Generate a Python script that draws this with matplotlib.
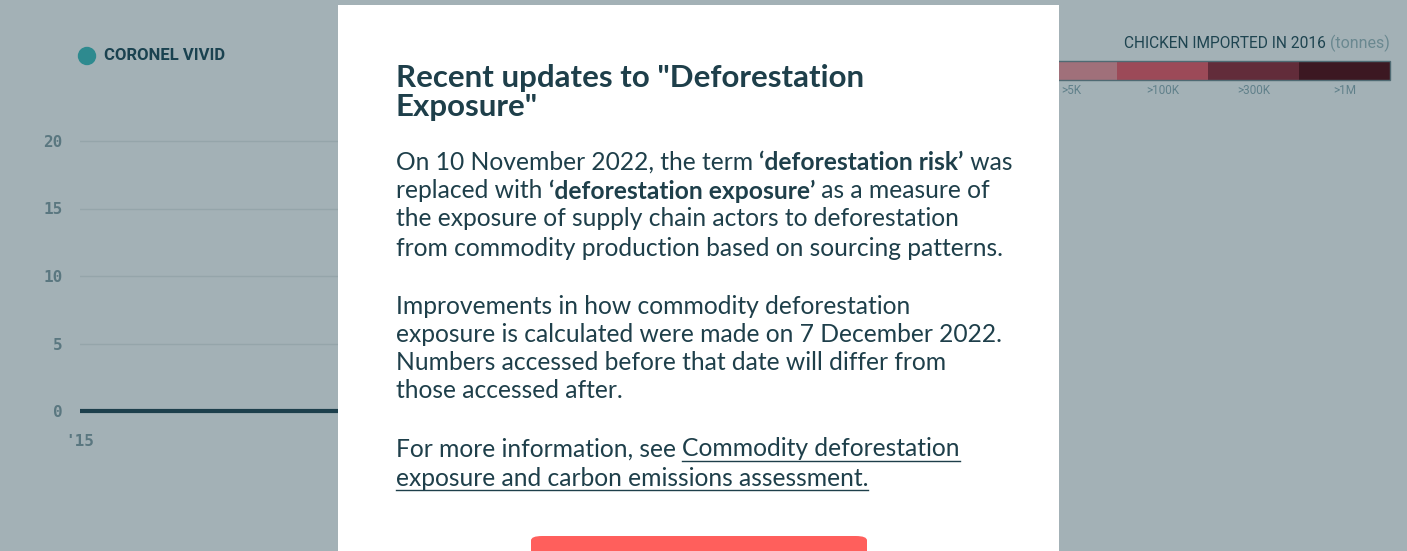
import matplotlib
matplotlib.use("Agg")
import matplotlib.pyplot as plt
from matplotlib.patches import Rectangle, FancyBboxPatch, Circle

# ---------------- data ----------------
years = [2015, 2016]
values = [0, 0]
series_name = "CORONEL VIVID"
y_ticks = [0, 5, 10, 15, 20]
x_tick_labels = ["'15"]
legend_bins = [">5K", ">100K", ">300K", ">1M"]
legend_colors = ["#a0707a", "#9c4a58", "#622c3a", "#3c1822"]
legend_title = "CHICKEN IMPORTED IN 2016"
legend_unit = "(tonnes)"

W, H = 1407, 551
BG = "#a3b1b6"
DARK = "#1e3f4a"

fig = plt.figure(figsize=(W / 100, H / 100), dpi=100, facecolor=BG)

def fx(x):
    return x / W

def fy(y):
    return 1 - y / H

# ---------------- line chart ----------------
ax_left, ax_right, ax_top, ax_bot = 80, 1000, 130, 420
ax = fig.add_axes([fx(ax_left), fy(ax_bot), fx(ax_right - ax_left), (ax_bot - ax_top) / H])
ax.set_facecolor("none")
pxu = (411 - 141) / 20.0
ax.set_ylim(0 - (ax_bot - 411) / pxu, 20 + (141 - ax_top) / pxu)
ax.set_xlim(years[0], years[-1])
for t in y_ticks[1:]:
    ax.axhline(t, color="#95a5aa", lw=1, zorder=1)
ax.plot(years, values, color="#1d3f4c", lw=3, solid_capstyle="butt", zorder=3, clip_on=False)
ax.set_yticks(y_ticks)
ax.set_yticklabels([str(t) for t in y_ticks], family="DejaVu Sans Mono", fontweight="bold",
                   fontsize=11.5, color="#5a7780")
ax.set_xticks(years[:1])
ax.set_xticklabels(x_tick_labels, family="DejaVu Sans Mono", fontweight="bold",
                   fontsize=11.5, color="#5a7780")
ax.tick_params(axis="y", length=0, pad=12.5)
ax.tick_params(axis="x", length=0, pad=10)
for s in ax.spines.values():
    s.set_visible(False)

# legend (series)
fig.patches.append(Circle((87, H - 56), 8.5, transform=None, color="#2e8a8f", zorder=5))
fig.text(fx(104), fy(56), series_name, family="Roboto", fontweight="bold", fontsize=12,
         color="#1a4250", va="center", ha="left")

# ---------------- color legend (top right) ----------------
seg_w = 91
x_end = 1390
for i, (lab, col) in enumerate(zip(legend_bins, legend_colors)):
    x0 = x_end - seg_w * (len(legend_bins) - i)
    fig.patches.append(Rectangle((fx(x0), fy(80)), fx(seg_w), 19 / H, transform=fig.transFigure,
                                 facecolor=col, edgecolor="none", zorder=2))
    fig.text(fx(x0 + seg_w / 2), fy(91), lab, family="Roboto", fontsize=8.5, color="#60808a",
             ha="center", va="center")
fig.patches.append(Rectangle((fx(x_end - seg_w * 4), fy(80)), fx(seg_w * 4), 19 / H,
                             transform=fig.transFigure, facecolor="none", edgecolor="#4f6a73",
                             lw=1, zorder=3))
t_unit = fig.text(fx(1390), fy(43), legend_unit, family="Roboto", fontsize=11.5,
                  color="#6a8890", ha="right", va="center")
fig.canvas.draw()
r = fig.canvas.get_renderer()
bb = t_unit.get_window_extent(r)
fig.text((bb.x0 - 4) / W, fy(43), legend_title, family="Roboto", fontsize=11.2,
         color="#1e4450", ha="right", va="center")

# ---------------- modal ----------------
fig.patches.append(Rectangle((fx(338), 0), fx(1059 - 338), fy(5), transform=fig.transFigure,
                             facecolor="white", edgecolor="none", zorder=10))
fig.patches.append(FancyBboxPatch((fx(531), -0.02), fx(867 - 531), (551 - 536) / H + 0.02,
                                  boxstyle="round,pad=0,rounding_size=0.008",
                                  transform=fig.transFigure, facecolor="#ff5f5c",
                                  edgecolor="none", zorder=11))

TF = "Lato"
fig.text(fx(396), fy(78), 'Recent updates to "Deforestation', family=TF, fontweight="bold",
         fontsize=22.5, color=DARK, va="center", zorder=12)
fig.text(fx(396), fy(107), 'Exposure"', family=TF, fontweight="bold",
         fontsize=22.5, color=DARK, va="center", zorder=12)

BF = "Lato"
BS = 17.7

def rich_line(x, y, runs):
    fig.canvas.draw()
    rend = fig.canvas.get_renderer()
    cur = x
    for txt, style in runs:
        t = fig.text(cur / W, fy(y), txt, family=BF, fontsize=BS, color=DARK, va="center",
                     ha="left", zorder=12,
                     fontweight="bold" if style == "b" else "normal")
        ext = t.get_window_extent(rend)
        if style == "u":
            fig.lines.append(plt.Line2D([ext.x0 / W, ext.x1 / W], [fy(y + 12)] * 2,
                                        transform=fig.transFigure, color=DARK, lw=1, zorder=12))
        cur = ext.x1

lines = [
    (162, [("On 10 November 2022, the term ", "n"), ("\u2018deforestation risk\u2019", "b"), (" was", "n")]),
    (191, [("replaced with ", "n"), ("\u2018deforestation exposure\u2019", "b"), (" as a measure of", "n")]),
    (219, [("the exposure of supply chain actors to deforestation", "n")]),
    (248, [("from commodity production based on sourcing patterns.", "n")]),
    (306, [("Improvements in how commodity deforestation", "n")]),
    (334, [("exposure is calculated were made on 7 December 2022.", "n")]),
    (363, [("Numbers accessed before that date will differ from", "n")]),
    (391, [("those accessed after.", "n")]),
    (449, [("For more information, see ", "n"), ("Commodity deforestation", "u")]),
    (478, [("exposure and carbon emissions assessment.", "u")]),
]
for y, runs in lines:
    rich_line(396, y, runs)

fig.savefig("out.png", dpi=100, facecolor=BG)
